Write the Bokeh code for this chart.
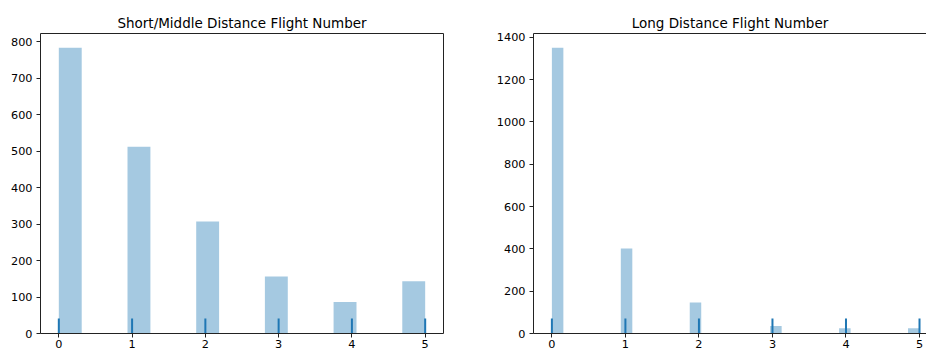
import numpy as np
from bokeh.plotting import figure
from bokeh.layouts import row
from bokeh.models import ColumnDataSource, FixedTicker, Range1d, LinearAxis
from bokeh.embed import file_html
from bokeh.resources import INLINE

# ---- data ----
flight_numbers = [0, 1, 2, 3, 4, 5]
short_middle_counts = [783, 512, 307, 156, 86, 143]
long_counts = [1350, 402, 147, 36, 25, 25]
short_bins = 16
long_bins = 32
short_yticks = [0, 100, 200, 300, 400, 500, 600, 700, 800]
long_yticks = [0, 200, 400, 600, 800, 1000, 1200, 1400]

BAR_COLOR = "#1f77b4"
RUG_COLOR = "#1f77b4"
FONT = "DejaVu Sans"
SPINE = "#222222"


def make_panel(title, counts, nbins, yticks, left_border, frame_w, right_border, x_end, right_spine):
    vals = np.array(flight_numbers, dtype=float)
    cnt = np.array(counts, dtype=float)
    edges = np.linspace(vals.min(), vals.max(), nbins + 1)
    idx = np.clip(np.searchsorted(edges, vals, side="right") - 1, 0, nbins - 1)
    left = edges[idx]
    right = edges[idx + 1]

    xr = vals.max() - vals.min()
    x_range = Range1d(vals.min() - 0.05 * xr, x_end)
    ytop = cnt.max() * 1.05
    y_range = Range1d(0, ytop)

    p = figure(
        width=left_border + frame_w + right_border,
        height=350,
        x_range=x_range, y_range=y_range,
        output_backend="svg", toolbar_location=None,
        min_border_left=left_border, min_border_right=right_border,
        min_border_top=33, min_border_bottom=0,
        title=title,
    )
    p.title.text_font = FONT
    p.title.text_font_size = "13.5px"
    p.title.text_font_style = "normal"
    p.title.text_color = "black"
    p.title.align = "center"
    p.title.standoff = 5

    src = ColumnDataSource(dict(left=left, right=right, top=cnt, bottom=np.zeros_like(cnt)))
    p.quad(left="left", right="right", top="top", bottom="bottom", source=src,
           fill_color=BAR_COLOR, fill_alpha=0.4, line_color=None)

    rug = ColumnDataSource(dict(x=vals, y0=np.zeros_like(vals), y1=np.full_like(vals, 0.05 * ytop)))
    p.segment(x0="x", y0="y0", x1="x", y1="y1", source=rug, line_color=RUG_COLOR, line_width=2)

    p.xgrid.visible = False
    p.ygrid.visible = False
    p.outline_line_color = None
    p.background_fill_color = "white"
    p.border_fill_color = "white"

    for ax in (p.xaxis[0], p.yaxis[0]):
        ax.axis_line_color = SPINE
        ax.axis_line_width = 1
        ax.major_tick_out = 4
        ax.major_tick_in = 0
        ax.minor_tick_line_color = None
        ax.major_tick_line_color = SPINE
        ax.major_label_text_font = FONT
        ax.major_label_text_font_size = "11.25px"
        ax.major_label_text_color = "black"
        ax.major_label_standoff = 4
    p.xaxis[0].major_label_standoff = 2
    p.xaxis[0].ticker = FixedTicker(ticks=flight_numbers)
    p.yaxis[0].ticker = FixedTicker(ticks=yticks)

    spines = ["above"] + (["right"] if right_spine else [])
    for side in spines:
        ax = LinearAxis(ticker=FixedTicker(ticks=[]), axis_line_color=SPINE, axis_line_width=1,
                        major_tick_line_color=None, minor_tick_line_color=None,
                        major_label_text_font_size="0px", major_label_standoff=0)
        p.add_layout(ax, side)
    return p


p1 = make_panel("Short/Middle Distance Flight Number", short_middle_counts, short_bins,
                short_yticks, 40, 403, 40, 5.25, True)
p2 = make_panel("Long Distance Flight Number", long_counts, long_bins,
                long_yticks, 50, 393, 0, 5.095, False)

layout = row(p1, p2)

open("out.html", "w").write(file_html(layout, INLINE))
